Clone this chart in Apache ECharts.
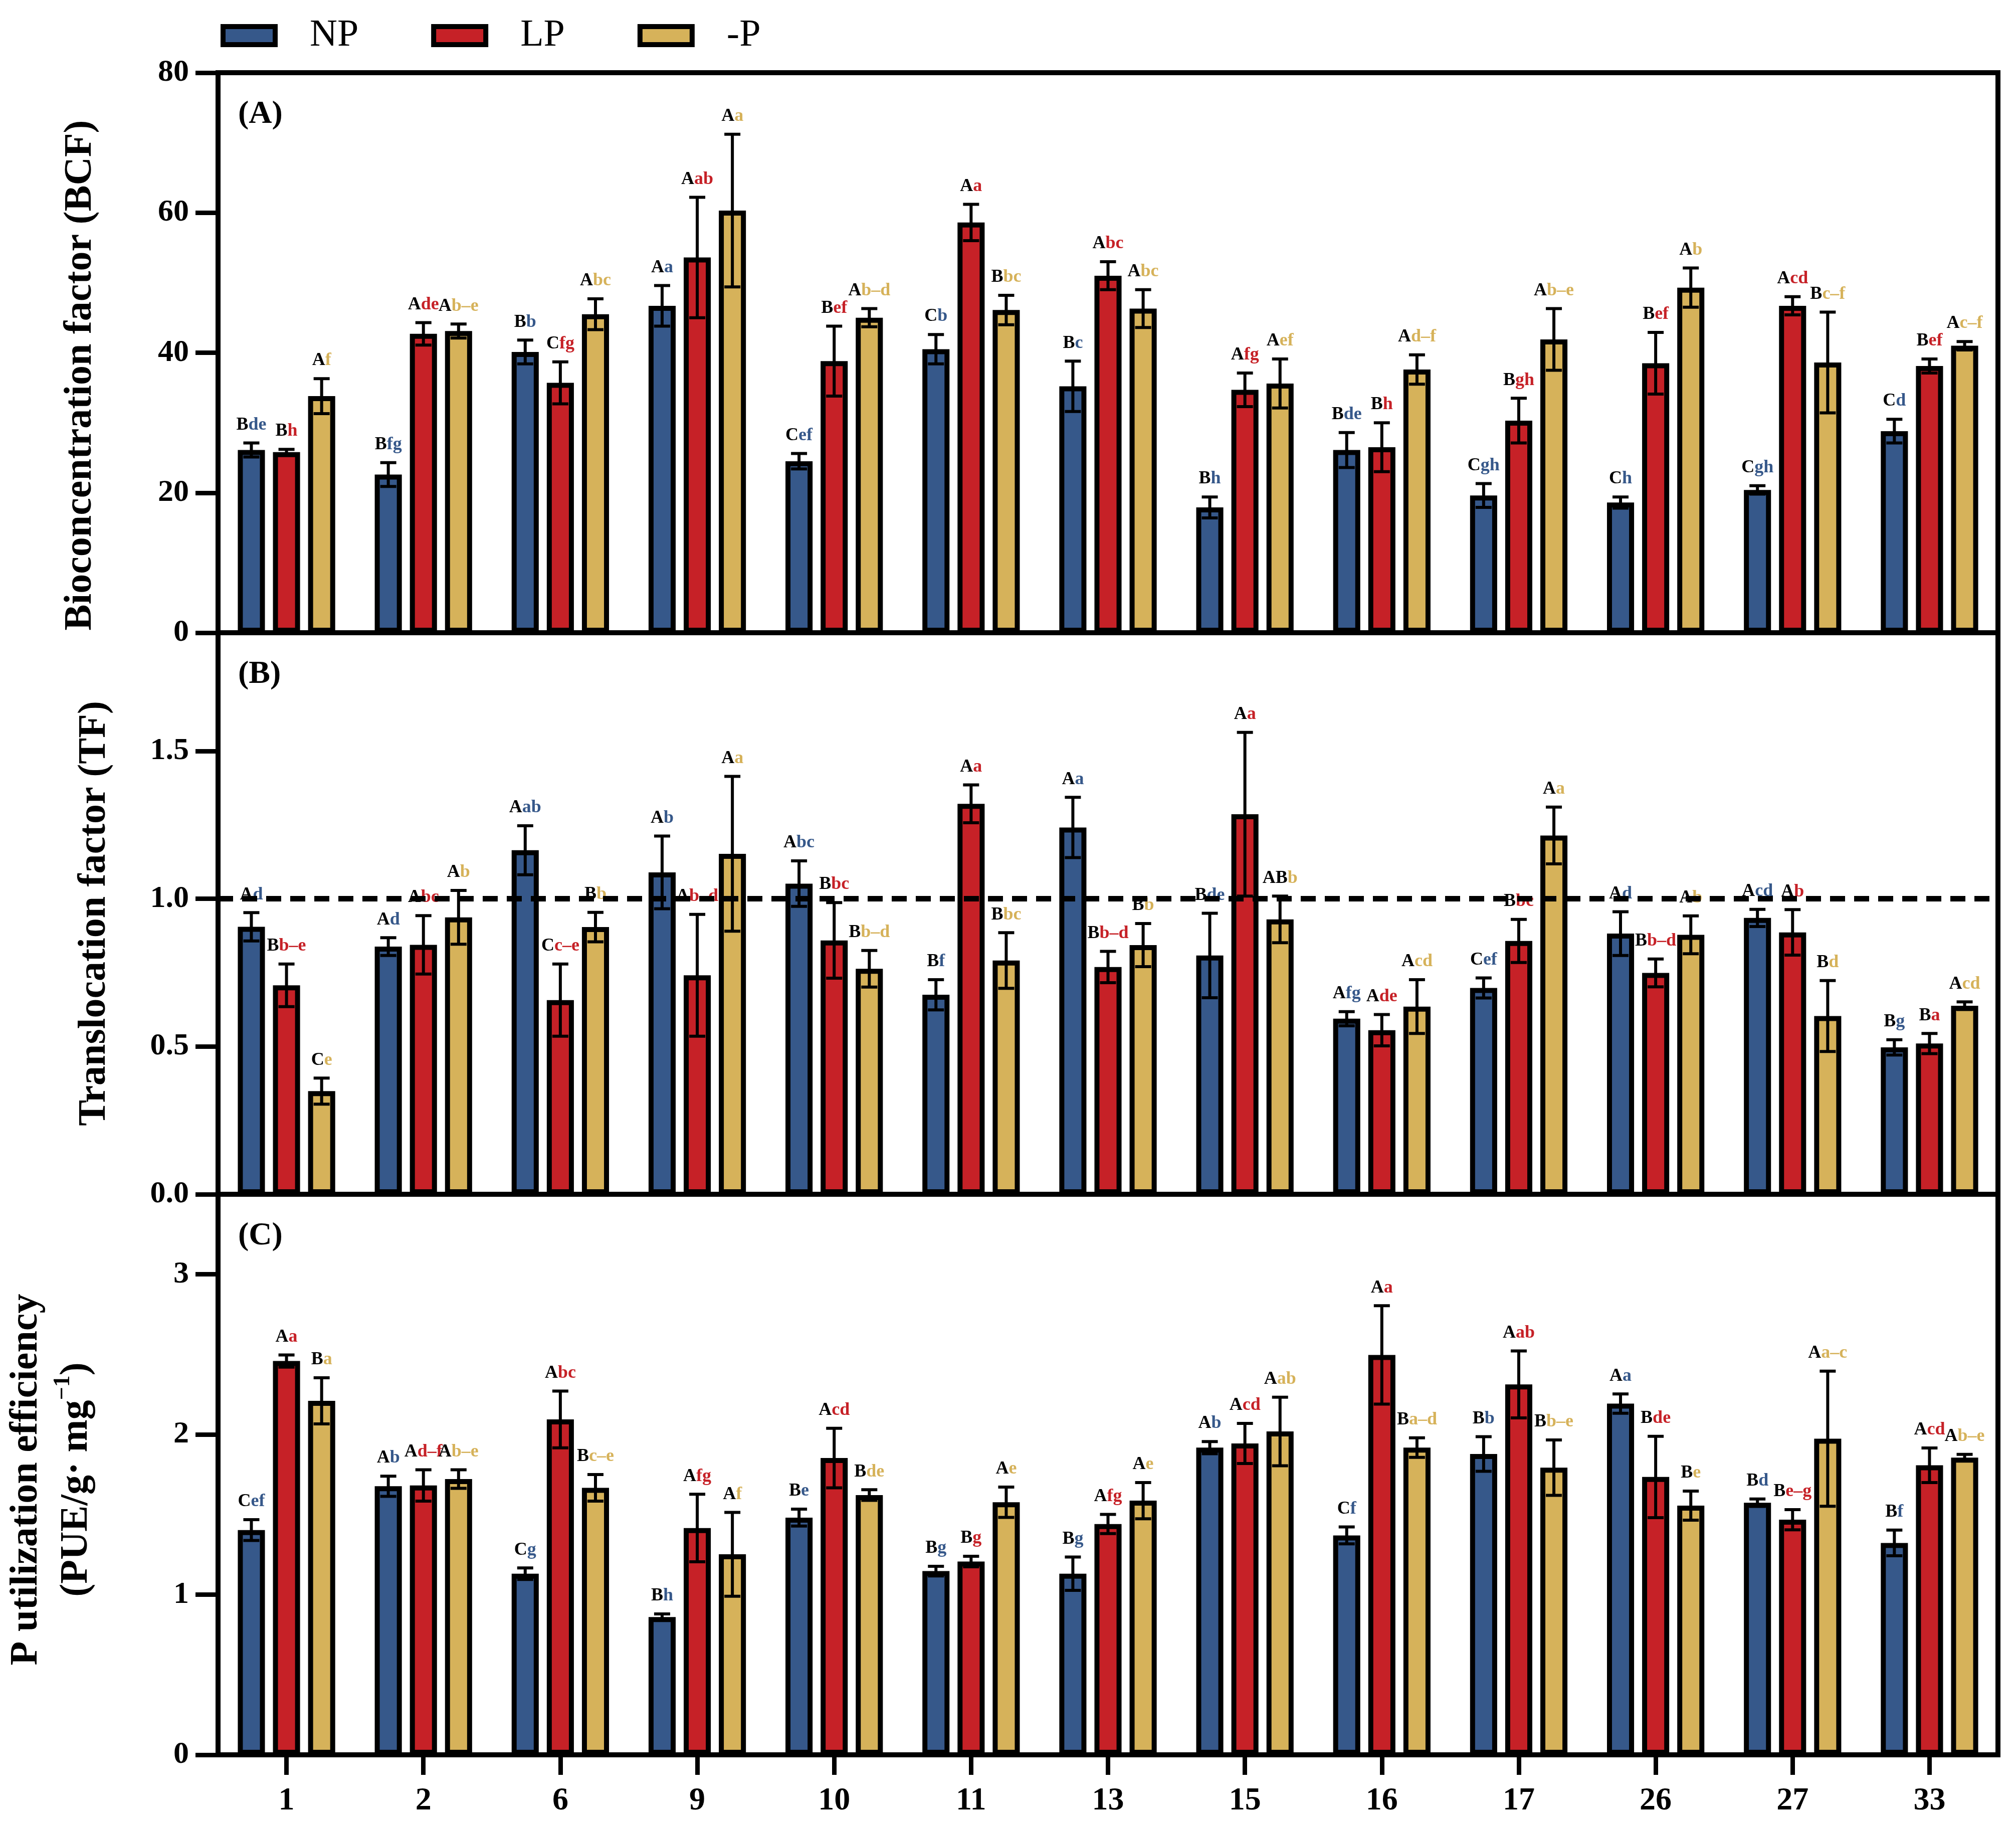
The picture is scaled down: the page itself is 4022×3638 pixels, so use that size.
<!DOCTYPE html>
<html>
<head>
<meta charset="utf-8">
<title>BCF / TF / PUE</title>
<script src="https://cdn.jsdelivr.net/npm/echarts@6/dist/echarts.min.js"></script>
<style>
html, body { margin:0; height:100%; background:#fff; }
</style>
</head>
<body>
<div id="main" style="width:4022px;height:3638px;"></div>
<script>
var categories = ['1', '2', '6', '9', '10', '11', '13', '15', '16', '17', '26', '27', '33'];
var seriesNames = ['NP', 'LP', '-P'];
var colors = ['#36588a', '#c62127', '#d6b25a'];

// (A) bioconcentration factor, mean and sd
var bcfNP   = [26.1, 22.6, 40.1, 46.7, 24.5, 40.5, 35.2, 17.9, 26.1, 19.6, 18.6, 20.4, 28.8];
var bcfNPsd = [1.0, 1.7, 1.7, 2.9, 1.1, 2.1, 3.6, 1.5, 2.5, 1.7, 0.8, 0.6, 1.7];
var bcfLP   = [25.8, 42.7, 35.7, 53.6, 38.8, 58.6, 51.0, 34.7, 26.5, 30.3, 38.5, 46.7, 38.1];
var bcfLPsd = [0.4, 1.6, 3.0, 8.6, 5.0, 2.6, 2.0, 2.4, 3.5, 3.2, 4.4, 1.3, 1.0];
var bcfMP   = [33.8, 43.1, 45.5, 60.3, 45.0, 46.1, 46.3, 35.6, 37.6, 41.9, 49.3, 38.6, 41.0];
var bcfMPsd = [2.5, 1.0, 2.2, 10.9, 1.3, 2.1, 2.7, 3.5, 2.1, 4.4, 2.8, 7.2, 0.6];
var bcfNPlab = ['Bde', 'Bfg', 'Bb', 'Aa', 'Cef', 'Cb', 'Bc', 'Bh', 'Bde', 'Cgh', 'Ch', 'Cgh', 'Cd'];
var bcfLPlab = ['Bh', 'Ade', 'Cfg', 'Aab', 'Bef', 'Aa', 'Abc', 'Afg', 'Bh', 'Bgh', 'Bef', 'Acd', 'Bef'];
var bcfMPlab = ['Af', 'Ab–e', 'Abc', 'Aa', 'Ab–d', 'Bbc', 'Abc', 'Aef', 'Ad–f', 'Ab–e', 'Ab', 'Bc–f', 'Ac–f'];

// (B) translocation factor
var tfNP   = [0.905, 0.838, 1.164, 1.089, 1.051, 0.675, 1.241, 0.808, 0.594, 0.698, 0.882, 0.935, 0.497];
var tfNPsd = [0.048, 0.030, 0.083, 0.123, 0.077, 0.051, 0.102, 0.143, 0.024, 0.034, 0.074, 0.029, 0.026];
var tfLP   = [0.707, 0.844, 0.657, 0.741, 0.859, 1.321, 0.769, 1.286, 0.555, 0.857, 0.749, 0.886, 0.510];
var tfLPsd = [0.072, 0.099, 0.122, 0.206, 0.128, 0.064, 0.053, 0.277, 0.053, 0.073, 0.047, 0.077, 0.034];
var tfMP   = [0.349, 0.937, 0.904, 1.152, 0.763, 0.791, 0.843, 0.930, 0.635, 1.214, 0.878, 0.603, 0.638];
var tfMPsd = [0.044, 0.091, 0.050, 0.262, 0.062, 0.094, 0.073, 0.079, 0.091, 0.096, 0.064, 0.120, 0.013];
var tfNPlab = ['Ad', 'Ad', 'Aab', 'Ab', 'Abc', 'Bf', 'Aa', 'Bde', 'Afg', 'Cef', 'Ad', 'Acd', 'Bg'];
var tfLPlab = ['Bb–e', 'Abc', 'Cc–e', 'Ab–d', 'Bbc', 'Aa', 'Bb–d', 'Aa', 'Ade', 'Bbc', 'Bb–d', 'Ab', 'Ba'];
var tfMPlab = ['Ce', 'Ab', 'Bb', 'Aa', 'Bb–d', 'Bbc', 'Bb', 'ABb', 'Acd', 'Aa', 'Ab', 'Bd', 'Acd'];

// (C) P utilization efficiency
var pueNP   = [1.403, 1.677, 1.131, 0.860, 1.481, 1.147, 1.131, 1.918, 1.370, 1.878, 2.193, 1.574, 1.323];
var pueNPsd = [0.065, 0.063, 0.036, 0.020, 0.053, 0.030, 0.104, 0.038, 0.053, 0.108, 0.060, 0.023, 0.080];
var pueLP   = [2.459, 1.682, 2.094, 1.416, 1.853, 1.207, 1.441, 1.944, 2.497, 2.313, 1.735, 1.468, 1.808];
var pueLPsd = [0.038, 0.098, 0.177, 0.211, 0.186, 0.033, 0.060, 0.125, 0.307, 0.209, 0.254, 0.063, 0.108];
var pueMP   = [2.210, 1.722, 1.667, 1.252, 1.622, 1.577, 1.587, 2.019, 1.918, 1.793, 1.556, 1.974, 1.856];
var pueMPsd = [0.144, 0.058, 0.083, 0.262, 0.033, 0.095, 0.113, 0.214, 0.061, 0.173, 0.091, 0.422, 0.020];
var pueNPlab = ['Cef', 'Ab', 'Cg', 'Bh', 'Be', 'Bg', 'Bg', 'Ab', 'Cf', 'Bb', 'Aa', 'Bd', 'Bf'];
var pueLPlab = ['Aa', 'Ad–f', 'Abc', 'Afg', 'Acd', 'Bg', 'Afg', 'Acd', 'Aa', 'Aab', 'Bde', 'Be–g', 'Acd'];
var pueMPlab = ['Ba', 'Ab–e', 'Bc–e', 'Af', 'Bde', 'Ae', 'Ae', 'Aab', 'Ba–d', 'Bb–e', 'Be', 'Aa–c', 'Ab–e'];

var FONT = 'Liberation Serif';
var BAR_W = 0.198, BAR_GAP = 0.296;
var STEP = BAR_W * (1 + BAR_GAP);

var panels = [
    { tag: '(A)', name: 'Bioconcentration factor (BCF)', max: 80, interval: 20, gap: 224, shift: [0, 90, 0, 0],
      mean: [bcfNP, bcfLP, bcfMP], sd: [bcfNPsd, bcfLPsd, bcfMPsd], lab: [bcfNPlab, bcfLPlab, bcfMPlab] },
    { tag: '(B)', name: 'Translocation factor (TF)', max: 1.9, interval: 0.5, gap: 196, shift: 0,
      mean: [tfNP, tfLP, tfMP], sd: [tfNPsd, tfLPsd, tfMPsd], lab: [tfNPlab, tfLPlab, tfMPlab] },
    { tag: '(C)', name: 'P utilization efficiency\n(PUE/g· mg{s|−1})', max: 3.5, interval: 1, gap: 232, shift: [0, 20, 0, 0],
      mean: [pueNP, pueLP, pueMP], sd: [pueNPsd, pueLPsd, pueMPsd], lab: [pueNPlab, pueLPlab, pueMPlab] }
];
var gridTops = [145, 1262, 2382];
var gridHeights = [1117, 1120, 1118];

function errorItem(k, labels) {
    return function (params, api) {
        var i = api.value(0), m = api.value(1), sd = api.value(2);
        var band = api.size([1, 0])[0];
        var dx = (k - 1) * band * STEP;
        var hi = api.coord([i, m + sd]);
        var lo = api.coord([i, m - sd]);
        var x = hi[0] + dx;
        var cap = 16;
        var parts = labels[params.dataIndex].match(/^([A-Z]+)(.*)$/);
        var ls = { stroke: '#000', lineWidth: 6 };
        return {
            type: 'group',
            children: [
                { type: 'line', shape: { x1: x, y1: hi[1], x2: x, y2: lo[1] }, style: ls },
                { type: 'line', shape: { x1: x - cap, y1: hi[1], x2: x + cap, y2: hi[1] }, style: ls },
                { type: 'line', shape: { x1: x - cap, y1: lo[1], x2: x + cap, y2: lo[1] }, style: ls },
                { type: 'text', x: x, y: hi[1] - 18,
                  style: {
                      text: '{u|' + parts[1] + '}{l|' + parts[2] + '}',
                      align: 'center', verticalAlign: 'bottom',
                      rich: {
                          u: { fill: '#000', fontFamily: FONT, fontWeight: 'bold', fontSize: 36 },
                          l: { fill: colors[k], fontFamily: FONT, fontWeight: 'bold', fontSize: 36 }
                      }
                  } }
            ]
        };
    };
}

var grids = [], xAxes = [], yAxes = [], series = [], titles = [];
panels.forEach(function (p, pi) {
    var last = pi === panels.length - 1;
    grids.push({ left: 435, right: 36, top: gridTops[pi], height: gridHeights[pi],
        show: true, borderColor: '#000', borderWidth: 10, outerBoundsMode: 'none' });
    xAxes.push({
        type: 'category', gridIndex: pi, data: categories,
        axisLine: { lineStyle: { color: '#000', width: 10 } },
        axisTick: { show: last, alignWithLabel: true, length: 40, lineStyle: { color: '#000', width: 9 } },
        axisLabel: { show: last, margin: 60, color: '#000', fontFamily: FONT, fontWeight: 'bold', fontSize: 64 }
    });
    yAxes.push({
        type: 'value', gridIndex: pi, min: 0, max: p.max, interval: p.interval,
        name: p.name, nameLocation: 'middle', nameRotate: 90, nameGap: p.gap,
        nameTextStyle: { color: '#000', fontFamily: FONT, fontWeight: 'bold', fontSize: 78, lineHeight: 100,
            padding: p.shift,
            rich: { s: { fontFamily: FONT, fontWeight: 'bold', fontSize: 46, verticalAlign: 'top', lineHeight: 100 } } },
        splitLine: { show: false },
        axisLine: { show: true, lineStyle: { color: '#000', width: 10 } },
        axisTick: { show: true, length: 45, lineStyle: { color: '#000', width: 9 } },
        axisLabel: { margin: 58, color: '#000', fontFamily: FONT, fontWeight: 'bold', fontSize: 62,
            showMaxLabel: pi === 0,
            formatter: pi === 1 ? function (v) { return v.toFixed(1); } : null }
    });
    titles.push({ text: p.tag, left: 470, top: gridTops[pi] + 46,
        textStyle: { color: '#000', fontFamily: FONT, fontWeight: 'bold', fontSize: 64 } });
    for (var k = 0; k < 3; k++) {
        series.push({
            name: seriesNames[k], type: 'bar', xAxisIndex: pi, yAxisIndex: pi,
            barWidth: (BAR_W * 100) + '%', barGap: (BAR_GAP * 100) + '%',
            itemStyle: { color: colors[k], borderColor: '#000', borderWidth: 10 },
            data: p.mean[k]
        });
    }
    for (var k2 = 0; k2 < 3; k2++) {
        series.push({
            type: 'custom', xAxisIndex: pi, yAxisIndex: pi, silent: true, z: 4, clip: false,
            renderItem: errorItem(k2, p.lab[k2]),
            data: categories.map(function (c, i) { return [i, p.mean[k2][i], p.sd[k2][i]]; })
        });
    }
});

// dashed reference line at TF = 1
series.push({
    type: 'line', xAxisIndex: 1, yAxisIndex: 1, data: [], z: 6, silent: true,
    markLine: { silent: true, symbol: ['none', 'none'], label: { show: false },
        lineStyle: { color: '#000', width: 11, type: [30, 18] },
        data: [{ yAxis: 1 }] }
});

var myChart = echarts.init(document.getElementById('main'));
myChart.setOption({
    animation: false,
    backgroundColor: '#fff',
    title: titles,
    legend: {
        data: seriesNames, left: 435, top: 28, icon: 'rect',
        itemWidth: 104, itemHeight: 36, itemGap: 145,
        itemStyle: { borderColor: '#000', borderWidth: 10 },
        textStyle: { color: '#000', fontFamily: FONT, fontSize: 76, padding: [0, 0, 0, 64] }
    },
    grid: grids,
    xAxis: xAxes,
    yAxis: yAxes,
    series: series
});
</script>
</body>
</html>
